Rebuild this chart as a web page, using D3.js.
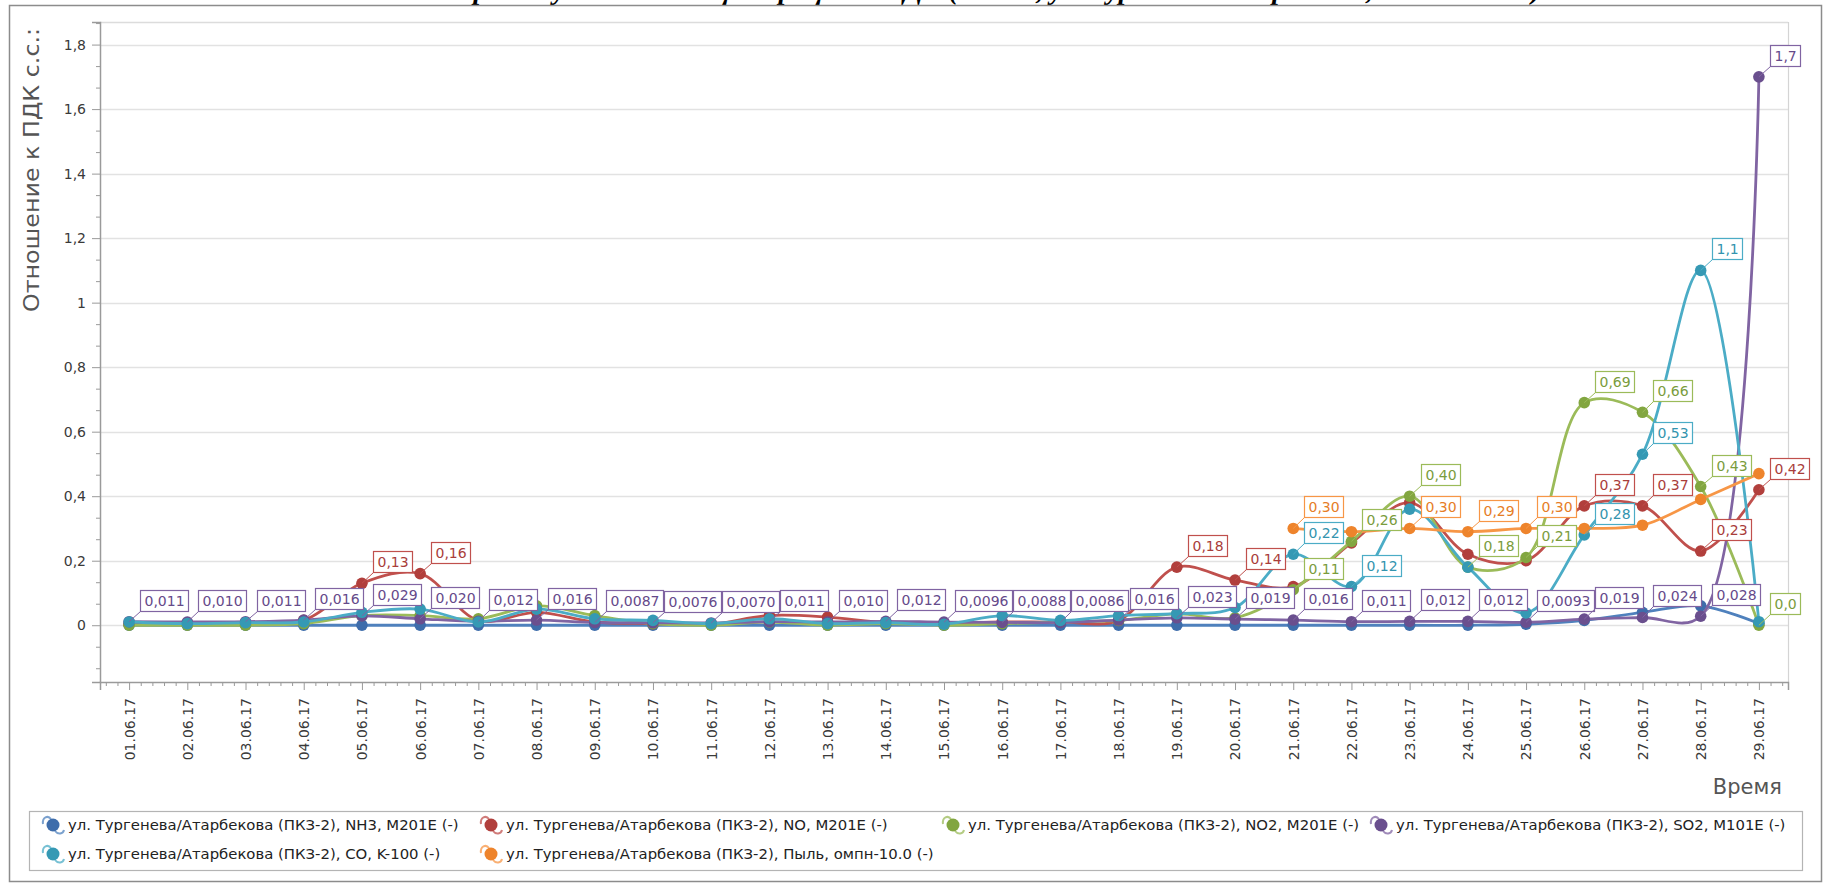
<!DOCTYPE html>
<html><head><meta charset="utf-8">
<script src="https://cdn.jsdelivr.net/npm/d3@7"></script>
<style>body{margin:0;background:#fff;} svg{display:block;}</style>
</head><body>
<svg id="chart" width="1825" height="883"></svg>
<script>
// ---------------- DATA ----------------
const chartTitle = "Отношение среднесуточных концентраций к ПДК (ПКЗ-2, ул. Тургенева/Атарбекова, июнь 2017 г.)";
const dates = ["01.06.17","02.06.17","03.06.17","04.06.17","05.06.17","06.06.17","07.06.17","08.06.17","09.06.17","10.06.17",
  "11.06.17","12.06.17","13.06.17","14.06.17","15.06.17","16.06.17","17.06.17","18.06.17","19.06.17","20.06.17",
  "21.06.17","22.06.17","23.06.17","24.06.17","25.06.17","26.06.17","27.06.17","28.06.17","29.06.17"];
const seriesNames = [
  "ул. Тургенева/Атарбекова (ПКЗ-2), NH3, M201E (-)",
  "ул. Тургенева/Атарбекова (ПКЗ-2), NO, M201E (-)",
  "ул. Тургенева/Атарбекова (ПКЗ-2), NO2, M201E (-)",
  "ул. Тургенева/Атарбекова (ПКЗ-2), SO2, M101E (-)",
  "ул. Тургенева/Атарбекова (ПКЗ-2), CO, K-100 (-)",
  "ул. Тургенева/Атарбекова (ПКЗ-2), Пыль, омпн-10.0 (-)"
];
const nh3 = [0,0,0,0,0,0,0,0,0,0, 0,0,0,0,0,0,0,0,0,0, 0,0,0,0,0.003,0.015,0.04,0.06,0.005];
const no  = [0.005,0.004,0.006,0.015,0.13,0.16,0.015,0.04,0.01,0.005, 0.003,0.03,0.025,0.008,0.005,0.01,0.01,0.015,0.18,0.14, 0.12,0.255,0.38,0.22,0.20,0.37,0.37,0.23,0.42];
const no2 = [0,0,0,0.005,0.03,0.03,0.02,0.06,0.03,0.005, 0,0.01,0,0.005,0,0.005,0.01,0.015,0.035,0.023, 0.11,0.26,0.40,0.18,0.21,0.69,0.66,0.43,0];
const so2 = [0.011,0.010,0.011,0.016,0.029,0.020,0.012,0.016,0.0087,0.0076, 0.0070,0.011,0.010,0.012,0.0096,0.0088,0.0086,0.016,0.023,0.019, 0.016,0.011,0.012,0.012,0.0093,0.019,0.024,0.028,1.7];
const co  = [0.01,0.005,0.008,0.01,0.04,0.05,0.01,0.05,0.02,0.015, 0.005,0.02,0.005,0.008,0.003,0.03,0.015,0.03,0.036,0.055, 0.22,0.12,0.36,0.18,0.038,0.28,0.53,1.1,0.011];
const dust = [null,null,null,null,null,null,null,null,null,null, null,null,null,null,null,null,null,null,null,null, 0.30,0.29,0.30,0.29,0.30,0.30,0.31,0.39,0.47];
// indices of points whose value label is shown
const nh3Labels = [];
const noLabels = [4,5,18,19,25,26,27,28];
const no2Labels = [20,21,22,23,24,25,26,27,28];
const so2Labels = d3.range(29);
const coLabels = [20,21,25,26,27];
const dustLabels = [20,22,23,24];
const yTicks = [0,0.2,0.4,0.6,0.8,1,1.2,1.4,1.6,1.8];
const yAxisTitle = "Отношение к ПДК с.с.:";
const xAxisTitle = "Время";

// ---------------- STYLE ----------------
const lineColors   = ["#4f81bd","#c0504d","#9bbb59","#8064a2","#4bacc6","#f79646"];
const markerColors = ["#3e6dab","#b13f3c","#82a640","#6a4f8e","#3599b4","#ee842c"];
const textColors   = ["#3e6dab","#a93d3a","#7a9c3c","#654a8a","#3394ae","#e67d26"];

const series = [nh3,no,no2,so2,co,dust].map((vals,i)=>({
  name: seriesNames[i], values: vals,
  labels: [nh3Labels,noLabels,no2Labels,so2Labels,coLabels,dustLabels][i],
  color: lineColors[i], marker: markerColors[i], text: textColors[i]
}));

const locale = d3.formatLocale({decimal:",", thousands:" ", grouping:[3], currency:["",""]});
const tickFmt = locale.format(".1~f");
const labFmt = locale.format(".2r");

const svg = d3.select("#chart");
const P = {l:100, r:1788, t:22, b:682};
const x = d3.scaleLinear().domain([-0.5, dates.length-0.5]).range([P.l, P.r]);
const y = d3.scaleLinear().domain([-0.176, 1.87]).range([P.b, P.t]);

// title (cut off at top in reference)
svg.append("text").attr("x", 922).attr("y", -1).attr("text-anchor","middle")
  .attr("font-family","Liberation Serif, serif").attr("font-style","italic").attr("font-weight","bold")
  .attr("font-size", 28).attr("fill","#000").text(chartTitle);

// outer frame
svg.append("rect").attr("x",9.5).attr("y",5.5).attr("width",1812).attr("height",876)
  .attr("fill","none").attr("stroke","#8c8c8c").attr("stroke-width",1.5);

// gridlines
svg.append("g").selectAll("line").data(yTicks).join("line")
  .attr("x1",P.l).attr("x2",P.r).attr("y1",d=>Math.round(y(d))+0.5).attr("y2",d=>Math.round(y(d))+0.5)
  .attr("stroke","#e2e2e2").attr("stroke-width",1.5);
// top & right plot border
svg.append("line").attr("x1",P.l).attr("x2",P.r).attr("y1",P.t+0.5).attr("y2",P.t+0.5).attr("stroke","#dcdcdc").attr("stroke-width",1.5);
svg.append("line").attr("x1",P.r+0.5).attr("x2",P.r+0.5).attr("y1",P.t).attr("y2",P.b).attr("stroke","#d4d4d4").attr("stroke-width",1.2);

// y axis
const yAxis = d3.axisLeft(y).tickValues(yTicks).tickFormat(tickFmt).tickSize(8).tickPadding(6);
const gy = svg.append("g").attr("transform",`translate(${P.l},0)`).call(yAxis);
gy.select(".domain").attr("stroke","#9a9a9a").attr("stroke-width",1.5);
gy.selectAll(".tick line").attr("stroke","#9a9a9a");
gy.selectAll(".tick text").attr("font-family","DejaVu Sans, Verdana, sans-serif").attr("font-size",14).attr("fill","#3a3a3a");
const yMinor = d3.range(-2, 29).map(k=>k*0.2/3).filter(v=>v>=-0.176 && v<=1.87 && Math.abs(Math.round(v/0.2)*0.2-v)>1e-6);
svg.append("g").attr("transform",`translate(${P.l},0)`).call(d3.axisLeft(y).tickValues(yMinor).tickSize(4).tickFormat(""))
  .call(g=>{g.select(".domain").remove(); g.selectAll(".tick line").attr("stroke","#9a9a9a");});

// x axis
const xAxis = d3.axisBottom(x).tickValues(d3.range(dates.length)).tickFormat(i=>dates[i]).tickSize(8);
const gx = svg.append("g").attr("transform",`translate(0,${P.b})`).call(xAxis);
gx.select(".domain").attr("stroke","#9a9a9a").attr("stroke-width",1.5);
gx.selectAll(".tick line").attr("stroke","#9a9a9a");
gx.selectAll(".tick text").attr("font-family","DejaVu Sans, Verdana, sans-serif").attr("font-size",14).attr("fill","#3a3a3a")
  .attr("text-anchor","end").attr("transform","translate(0,16) rotate(-90)").attr("x",0).attr("y",0).attr("dy","0.35em");
const xMinor = d3.range(-2, dates.length*5-2).map(k=>k/5).filter(v=>v>-0.5 && v<dates.length-0.5 && Math.abs(v-Math.round(v))>1e-6);
svg.append("g").attr("transform",`translate(0,${P.b})`).call(d3.axisBottom(x).tickValues(xMinor).tickSize(4).tickFormat(""))
  .call(g=>{g.select(".domain").remove(); g.selectAll(".tick line").attr("stroke","#9a9a9a");});

// axis titles
svg.append("text").attr("transform","translate(39,170) rotate(-90)").attr("text-anchor","middle")
  .attr("font-family","DejaVu Sans, sans-serif").attr("font-size",21).attr("fill","#555")
  .attr("textLength",284).attr("lengthAdjust","spacingAndGlyphs").text(yAxisTitle);
svg.append("text").attr("x",1782).attr("y",794).attr("text-anchor","end")
  .attr("font-family","DejaVu Sans, sans-serif").attr("font-size",21).attr("fill","#555").text(xAxisTitle);

// series lines + markers
const line = d3.line().defined(d=>d.v!=null).x(d=>x(d.i)).y(d=>y(d.v)).curve(d3.curveCatmullRom.alpha(0.5));
const gS = svg.append("g");
series.forEach(s=>{
  const pts = s.values.map((v,i)=>({i,v}));
  gS.append("path").datum(pts).attr("d",line).attr("fill","none").attr("stroke",s.color).attr("stroke-width",2.8)
    .attr("stroke-linejoin","round");
  gS.append("g").selectAll("circle").data(pts.filter(d=>d.v!=null)).join("circle")
    .attr("cx",d=>x(d.i)).attr("cy",d=>y(d.v)).attr("r",5.8).attr("fill",s.marker);
});

// data labels
const gL = svg.append("g");
series.forEach(s=>{
  s.labels.forEach(i=>{
    const v = s.values[i]; if (v==null) return;
    const px = x(i), py = y(v);
    const bx = Math.round(px+11)+0.5, by = Math.round(py-11)+0.5;
    const g = gL.append("g");
    g.append("line").attr("x1",px).attr("y1",py).attr("x2",bx).attr("y2",by).attr("stroke",s.color).attr("stroke-width",1);
    const t = g.append("text").attr("font-family","DejaVu Sans, Verdana, sans-serif").attr("font-size",14)
      .attr("fill",s.text).text(labFmt(v));
    const w = t.node().getComputedTextLength();
    g.insert("rect","text").attr("x",bx).attr("y",by-21).attr("width",Math.round(w+8)).attr("height",21)
      .attr("fill","#fff").attr("stroke",s.color).attr("stroke-width",1.2);
    t.attr("x",bx+4).attr("y",by-5.5);
  });
});

// legend
const lg = svg.append("g");
lg.append("rect").attr("x",29.5).attr("y",811.5).attr("width",1773).attr("height",59)
  .attr("fill","#fff").attr("stroke","#b4b4b4").attr("stroke-width",1.2);
const colX = [68,506,968,1396];
const rowY = [825,854];
const cells = [[0,0],[0,1],[0,2],[0,3],[1,0],[1,1]];
// font size chosen so the first entry spans ~391px, as in the reference
const probe = lg.append("text").attr("font-family","DejaVu Sans, Tahoma, sans-serif").attr("font-size",13).text(seriesNames[0]);
const fs = 13*391/probe.node().getComputedTextLength();
probe.remove();
series.forEach((s,k)=>{
  const [r,c] = cells[k];
  const tx = colX[c], cy = rowY[r];
  const ix = tx-15;
  lg.append("path").attr("d",`M${ix-10},${cy-1} C${ix-11},${cy-8} ${ix-5},${cy-10} ${ix-2},${cy-6}`)
    .attr("fill","none").attr("stroke",s.color).attr("stroke-opacity",0.75).attr("stroke-width",2);
  lg.append("path").attr("d",`M${ix+2},${cy+6} C${ix+5},${cy+10} ${ix+10},${cy+9} ${ix+11},${cy+5}`)
    .attr("fill","none").attr("stroke",s.color).attr("stroke-opacity",0.75).attr("stroke-width",2);
  lg.append("circle").attr("cx",ix).attr("cy",cy).attr("r",6.5).attr("fill",s.marker);
  lg.append("text").attr("x",tx).attr("y",cy).attr("dy","0.36em").attr("font-family","DejaVu Sans, Tahoma, sans-serif")
    .attr("font-size",fs).attr("fill","#222").text(s.name);
});
</script>
</body></html>
